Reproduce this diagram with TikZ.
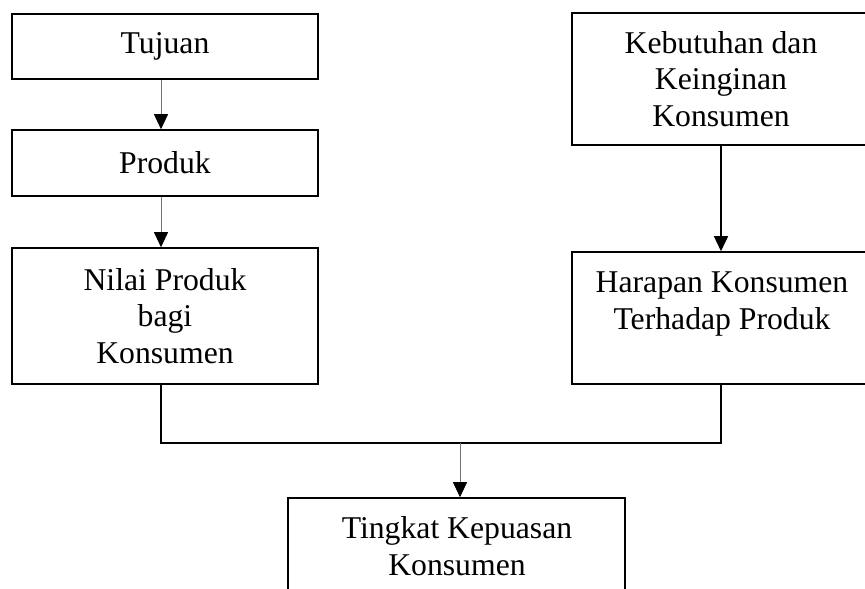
\documentclass[tikz,border=0pt]{standalone}
\usepackage{fontspec}
\setmainfont{Liberation Serif}
\usetikzlibrary{arrows.meta}

\tikzset{
  kotak/.style={draw, line width=1.6pt, align=center, inner sep=0pt,
    font=\fontsize{31.7}{36.5}\selectfont},
  teks/.style={align=center, inner sep=0pt,
    font=\fontsize{31.7}{36.5}\selectfont},
  panah/.style={-{Triangle[width=14pt,length=15pt,color=black]},
    line width=0.8pt, black!55},
  panahtebal/.style={-{Triangle[width=14pt,length=15pt]}, line width=1.6pt},
  garis/.style={line width=1.4pt}
}

\begin{document}
\begin{tikzpicture}[x=1pt, y=-1pt]
        \useasboundingbox (0,0) rectangle (865,589);

        % Kolom kiri
        \node[kotak, minimum width=306pt, minimum height=65pt] (tujuan) at (165,46.5) {Tujuan};
        \node[kotak, minimum width=306pt, minimum height=66pt] (produk) at (165,163) {Produk};
        \node[kotak, minimum width=306pt, minimum height=136pt] (nilai) at (165,316)
          {Nilai Produk\\bagi\\Konsumen};

        % Kolom kanan
        \node[kotak, minimum width=298pt, minimum height=132pt] (kebutuhan) at (721,79)
          {Kebutuhan dan\\Keinginan\\Konsumen};
        \node[kotak, minimum width=298pt, minimum height=132pt] (harapan) at (721,318) {};
        \node[teks] (harapanteks) at (722,304) {Harapan Konsumen\\Terhadap Produk};

        % Hasil
        \node[kotak, minimum width=337pt, minimum height=160pt] (tingkat) at (456.5,578) {};
        \node[teks] (tingkatteks) at (457,546) {Tingkat Kepuasan\\Konsumen};

        % Panah
        \draw[panah] ([xshift=-4pt]tujuan.south) -- ([xshift=-4pt]produk.north);
        \draw[panah] ([xshift=-4pt]produk.south) -- ([xshift=-4pt]nilai.north);
        \draw[panahtebal] (kebutuhan.south) -- (harapan.north);

        \coordinate (gabung) at (460,443);
        \draw[garis] ([xshift=-4pt]nilai.south) |- (gabung) -| (harapan.south);
        \draw[panah] (gabung) -- (gabung |- tingkat.north);
    \end{tikzpicture}
\end{document}
